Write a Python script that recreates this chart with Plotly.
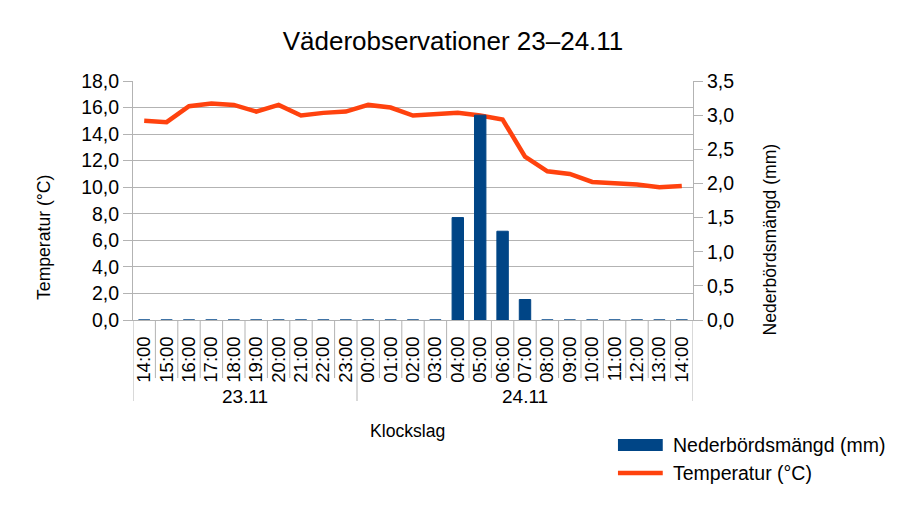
import plotly.graph_objects as go

dates = ["23.11", "24.11"]
date_counts = [10, 15]
times = ["14:00", "15:00", "16:00", "17:00", "18:00", "19:00", "20:00", "21:00", "22:00", "23:00",
         "00:00", "01:00", "02:00", "03:00", "04:00", "05:00", "06:00", "07:00", "08:00", "09:00",
         "10:00", "11:00", "12:00", "13:00", "14:00"]
precip = [0, 0, 0, 0, 0, 0, 0, 0, 0, 0,
          0, 0, 0, 0, 1.5, 3.0, 1.3, 0.3, 0, 0,
          0, 0, 0, 0, 0]
temp = [15.0, 14.9, 16.1, 16.3, 16.2, 15.7, 16.2, 15.4, 15.6, 15.7,
        16.2, 16.0, 15.4, 15.5, 15.6, 15.4, 15.1, 12.3, 11.2, 11.0,
        10.4, 10.3, 10.2, 10.0, 10.1]

FONT = "Liberation Sans, Arial, sans-serif"
BAR_C = "#004586"
LINE_C = "#ff420e"
GRID_C = "#b3b3b3"
idx = list(range(len(times)))

fig = go.Figure()
fig.add_trace(go.Bar(x=idx, y=precip, name="Nederbördsmängd (mm)", yaxis="y2", showlegend=False,
                     marker=dict(color=BAR_C, line=dict(color=BAR_C, width=1))))
fig.add_trace(go.Scatter(x=idx, y=temp, name="Temperatur (°C)", mode="lines", showlegend=False,
                         line=dict(color=LINE_C, width=4.5)))

shapes = []
annotations = []
# category separators below the axis
bounds = [0]
for c in date_counts:
    bounds.append(bounds[-1] + c)
for i in range(len(times) + 1):
    long = i in bounds
    shapes.append(dict(type="line", xref="x", yref="paper", x0=i - 0.5, x1=i - 0.5,
                       y0=0, y1=-0.339 if long else -0.243,
                       line=dict(color=GRID_C, width=1)))
# group labels
for d, a, b in zip(dates, bounds[:-1], bounds[1:]):
    annotations.append(dict(text=d, xref="x", yref="paper", x=(a + b - 1) / 2, y=-0.318,
                            showarrow=False, xanchor="center", yanchor="middle",
                            font=dict(size=19)))
# axis titles
annotations.append(dict(text="Klockslag", xref="paper", yref="paper", x=0.49, y=-0.464,
                        showarrow=False, xanchor="center", yanchor="middle", font=dict(size=17.6)))
annotations.append(dict(text="Temperatur (°C)", xref="paper", yref="paper", x=-0.16, y=0.345,
                        textangle=-90, showarrow=False, xanchor="center", yanchor="middle",
                        font=dict(size=17.6)))
annotations.append(dict(text="Nederbördsmängd (mm)", xref="paper", yref="paper", x=1.1375, y=0.337,
                        textangle=-90, showarrow=False, xanchor="center", yanchor="middle",
                        font=dict(size=17.6)))
# custom legend
shapes.append(dict(type="rect", xref="paper", yref="paper", x0=0.866, x1=0.946, y0=-0.523 - 0.025,
                   y1=-0.523 + 0.025, fillcolor=BAR_C, line=dict(width=0)))
shapes.append(dict(type="line", xref="paper", yref="paper", x0=0.866, x1=0.946, y0=-0.640, y1=-0.640,
                   line=dict(color=LINE_C, width=4.5)))
annotations.append(dict(text="Nederbördsmängd (mm)", xref="paper", yref="paper", x=0.961, y=-0.523,
                        showarrow=False, xanchor="left", yanchor="middle", font=dict(size=19.5)))
annotations.append(dict(text="Temperatur (°C)", xref="paper", yref="paper", x=0.961, y=-0.640,
                        showarrow=False, xanchor="left", yanchor="middle", font=dict(size=19.5)))

fig.update_layout(
    width=907, height=510,
    margin=dict(l=133, r=214, t=81, b=190, autoexpand=False),
    paper_bgcolor="white", plot_bgcolor="white",
    font=dict(family=FONT, size=19, color="black"),
    separators=", ",
    title=dict(text="Väderobservationer 23–24.11", x=453 / 907, xref="container", xanchor="center",
               y=1 - 41 / 510, yref="container", yanchor="middle",
               font=dict(size=26, family=FONT)),
    bargap=0.49,
    showlegend=False,
    shapes=shapes,
    annotations=annotations,
    xaxis=dict(range=[-0.5, len(times) - 0.5], tickmode="array", tickvals=idx, ticktext=times,
               tickangle=-90, ticks="", ticklabelstandoff=8, showgrid=False, zeroline=False,
               showline=True, linecolor=GRID_C, tickfont=dict(size=18.5), automargin=False),
    yaxis=dict(range=[0, 18], dtick=2, tickformat=".1f", showgrid=True, gridcolor=GRID_C,
               showline=True, linecolor=GRID_C, ticks="outside", tickcolor=GRID_C, ticklen=9,
               zeroline=False, tickfont=dict(size=19.5), automargin=False),
    yaxis2=dict(range=[0, 3.5], dtick=0.5, tickformat=".1f", overlaying="y", side="right",
                showgrid=False, showline=True, linecolor=GRID_C, ticks="outside",
                tickcolor=GRID_C, ticklen=9, zeroline=False, tickfont=dict(size=19.5),
                automargin=False),
)

fig.write_html("out.html", config={"displayModeBar": False},
               post_script="document.body.style.margin='0';")
